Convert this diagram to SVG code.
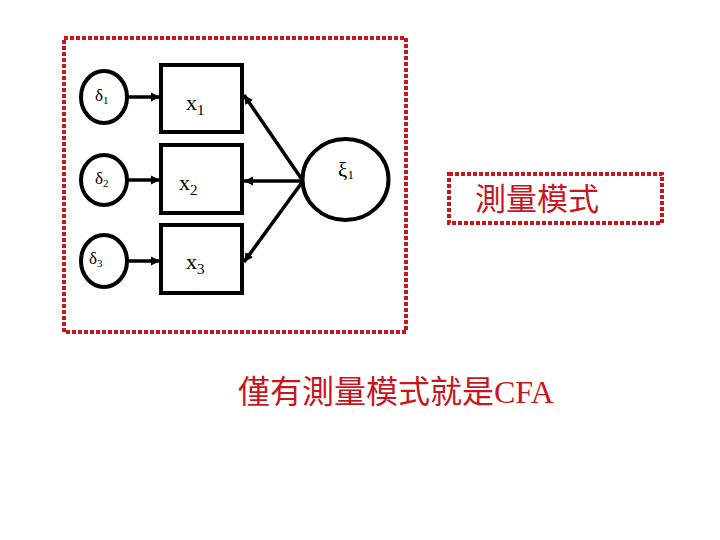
<svg xmlns="http://www.w3.org/2000/svg" width="720" height="540" viewBox="0 0 720 540">
<defs>
<style>
.node{fill:none;stroke:#000;stroke-width:4}
.lat{fill:#fff;stroke:#000;stroke-width:4}
.conn{stroke:#000;stroke-width:3.5;fill:none}
.frame{fill:none;stroke:#c8161e;stroke-width:4;stroke-dasharray:4 2}
.lbl{font-family:"Liberation Serif","Times New Roman",serif;fill:#000}
.red{font-family:"Liberation Serif","Noto Sans CJK TC",serif;fill:#c8161e}
</style>
<marker id="ah" viewBox="0 0 10 10" refX="10" refY="5" markerWidth="2.6" markerHeight="2.6" orient="auto" markerUnits="strokeWidth">
<path d="M0,0 L10,5 L0,10 z" fill="#000"/>
</marker>
</defs>
<rect width="720" height="540" fill="#fff"/>
<rect id="frame-main" class="frame" x="64" y="38" width="342" height="294"/>
<g id="connectors">
<line class="conn" x1="127" y1="97" x2="160" y2="97" marker-end="url(#ah)"/>
<line class="conn" x1="127" y1="180" x2="160" y2="180" marker-end="url(#ah)"/>
<line class="conn" x1="127" y1="261" x2="160" y2="261" marker-end="url(#ah)"/>
<line class="conn" x1="303" y1="181" x2="244" y2="95" marker-end="url(#ah)"/>
<line class="conn" x1="303" y1="181" x2="244" y2="181" marker-end="url(#ah)"/>
<line class="conn" x1="303" y1="181" x2="244" y2="262" marker-end="url(#ah)"/>
</g>
<g id="d1"><ellipse class="node" cx="104" cy="97" rx="23" ry="26"/><text class="lbl" x="95" y="101" font-size="17">δ<tspan font-size="11" dy="3">1</tspan></text></g>
<g id="d2"><ellipse class="node" cx="104" cy="180" rx="23" ry="25"/><text class="lbl" x="95" y="184" font-size="17">δ<tspan font-size="11" dy="3">2</tspan></text></g>
<g id="d3"><ellipse class="node" cx="104" cy="261" rx="23" ry="26"/><text class="lbl" x="89" y="264" font-size="17">δ<tspan font-size="11" dy="3">3</tspan></text></g>
<g id="x1"><rect class="node" x="161" y="65" width="81" height="67"/><text class="lbl" x="186" y="110" font-size="22">x<tspan font-size="15" dy="5">1</tspan></text></g>
<g id="x2"><rect class="node" x="161" y="145" width="81" height="68"/><text class="lbl" x="179" y="190" font-size="22">x<tspan font-size="15" dy="5">2</tspan></text></g>
<g id="x3"><rect class="node" x="161" y="225" width="81" height="68"/><text class="lbl" x="186" y="269" font-size="22">x<tspan font-size="15" dy="5">3</tspan></text></g>
<g id="xi1"><ellipse class="lat" cx="345.5" cy="179.5" rx="43" ry="40.5"/><text class="lbl" x="338" y="177" font-size="21">ξ<tspan font-size="13" dy="2">1</tspan></text></g>
<g id="label-box"><rect class="frame" x="449" y="174" width="213" height="49"/><text class="red" x="537" y="210" font-size="31" text-anchor="middle">測量模式</text></g>
<g id="caption"><text class="red" x="238" y="403" font-size="32">僅有測量模式就是CFA</text></g>
</svg>
